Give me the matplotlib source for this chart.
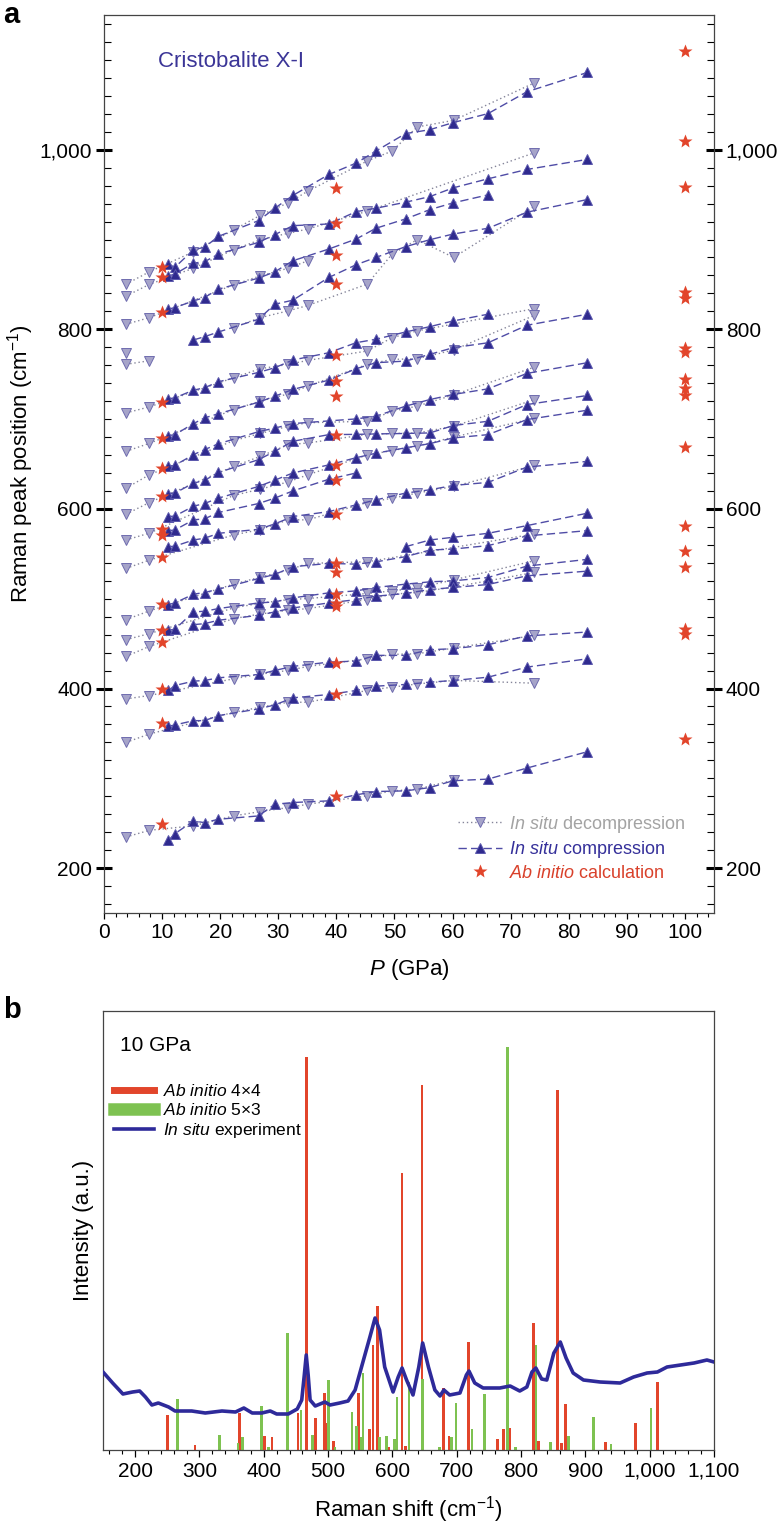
import numpy as np
import matplotlib
matplotlib.use("Agg")
import matplotlib.pyplot as plt
from matplotlib.lines import Line2D
from matplotlib.ticker import MultipleLocator, FuncFormatter

plt.rcParams["font.family"] = ["Liberation Sans", "DejaVu Sans"]
plt.rcParams["mathtext.fontset"] = "custom"
plt.rcParams["mathtext.rm"] = "Liberation Sans"
plt.rcParams["mathtext.it"] = "Liberation Sans:italic"

# ---- Panel a data (pressure in GPa, peak position in cm-1) ----
p_comp = [11.1, 12.2, 15.4, 17.3, 19.7, 26.6, 29.4, 32.5, 38.7, 43.4, 46.8, 51.9, 56.1, 60.1, 66.1, 72.8, 83.2]
p_decomp = [3.8, 7.8, 15.3, 22.3, 26.9, 31.7, 35.1, 45.3, 49.6, 53.9, 60.2, 74.1]
nan = np.nan

# compression branches (one list per Raman mode)
comp_1 = [872.6, 869.0, 888.6, 891.3, 903.5, 921.0, 934.8, 949.0, 972.4, 985.1, 998.5, 1017.9, 1022.3, 1030.2, 1040.2, 1064.5, 1086.0]
comp_2 = [859.5, 861.4, 873.7, 875.2, 883.8, 896.8, 905.4, 915.4, 917.3, 931.0, 934.8, 941.5, 947.8, 957.5, 967.6, 978.0, 989.2]
comp_3 = [822.5, 824.2, 831.6, 835.4, 844.7, 857.0, 864.0, 876.3, 889.4, 900.5, 912.5, 922.9, 933.3, 940.8, 949.7, nan, nan]
comp_4 = [nan, nan, 788.1, 791.8, 797.0, 811.2, 827.9, 832.4, 857.7, 871.9, 880.0, 892.0, 899.8, 906.1, 912.5, 930.4, 944.5]
comp_5 = [722.6, 723.7, 732.2, 734.9, 741.6, 752.0, 757.2, 765.8, 773.9, 785.1, 788.9, 797.0, 803.0, 809.3, 816.8, nan, nan]
comp_6 = [681.6, 682.7, 695.0, 701.3, 706.0, 718.8, 725.5, 733.0, 743.4, 756.1, 762.8, 764.6, 772.1, 779.5, 785.0, 804.5, 816.8]
comp_7 = [647.3, 648.5, 660.4, 666.0, 672.5, 686.0, 690.0, 695.0, 698.0, 700.2, 703.2, 714.4, 721.8, 727.4, 733.7, 750.9, 762.8]
comp_8 = [617.0, 617.6, 628.7, 631.7, 640.6, 654.8, 664.1, 675.3, 682.7, 683.0, 683.5, 684.0, 684.6, 692.8, 697.6, 716.2, 726.3]
comp_9 = [591.5, 592.0, 603.0, 606.0, 612.0, 625.0, 632.0, 640.0, 649.0, 657.0, 662.0, 668.0, 672.7, 679.0, 682.7, 699.5, 709.9]
comp_10 = [575.8, 576.5, 587.8, 588.9, 596.0, 606.0, 612.0, 620.0, 633.0, 640.0, nan, nan, nan, nan, nan, nan, nan]
comp_11 = [557.9, 558.5, 565.4, 567.3, 572.8, 577.3, 583.3, 591.5, 597.0, 604.5, 610.0, 617.6, 621.3, 626.1, 629.5, 646.6, 652.9]
comp_12 = [nan, nan, nan, nan, nan, nan, nan, nan, nan, nan, nan, 557.9, 565.4, 568.4, 572.8, 581.4, 595.2]
comp_13 = [493.5, 495.3, 505.0, 506.9, 510.6, 522.5, 527.0, 535.6, 539.3, 538.5, 541.0, 546.8, 554.2, 555.3, 559.1, 569.9, 575.8]
comp_14 = [465.0, 465.9, 485.3, 486.0, 489.0, 495.3, 496.4, 500.9, 506.5, 508.7, 512.5, 516.2, 518.8, 519.9, 523.6, 536.3, 543.8]
comp_15 = [nan, nan, 471.1, 472.2, 476.0, 481.5, 485.3, 489.7, 495.3, 499.0, 502.8, 505.8, 510.2, 512.5, 515.8, 525.5, 530.7]
comp_16 = [397.8, 403.3, 408.2, 408.9, 411.9, 415.6, 420.1, 424.6, 429.4, 430.5, 436.9, 436.9, 443.2, 444.3, 448.8, 458.5, 462.9]
comp_17 = [357.9, 359.4, 364.2, 364.2, 369.8, 377.3, 381.7, 389.6, 393.3, 397.8, 402.6, 404.5, 407.1, 408.9, 412.6, 423.8, 433.1]
comp_18 = [230.9, 238.3, 252.5, 250.6, 254.4, 258.1, 271.1, 273.0, 274.9, 281.6, 285.3, 286.0, 289.7, 297.3, 299.1, 311.4, 329.6]

# decompression branches
decomp_1 = [850.3, 864.0, 886.0, 910.6, 927.0, 940.8, 953.9, 987.4, 998.5, 1025.3, 1032.7, 1074.5]
decomp_2 = [837.0, 850.0, 867.8, 888.6, 899.8, 906.9, 911.7, 931.5, nan, nan, nan, 996.6]
decomp_3 = [805.6, 813.0, nan, 849.5, 859.5, 868.0, 876.3, nan, nan, nan, nan, nan]
decomp_4 = [nan, nan, nan, 801.9, 813.0, 820.5, 826.6, 850.3, 883.8, 899.8, 880.0, 937.0]
decomp_5 = [706.9, 713.6, nan, 746.0, 756.1, 760.9, 765.4, 775.8, 790.7, 798.2, nan, 823.0]
decomp_6 = [664.1, 673.0, nan, 710.6, 720.0, 728.0, 736.7, 760.9, 766.5, 767.2, 777.0, 815.6]
decomp_7 = [623.1, 638.0, nan, 676.0, 684.0, 692.0, 696.0, 697.6, 708.8, 714.4, 727.0, 757.9]
decomp_8 = [594.1, 607.1, nan, 647.3, 658.5, 671.5, 673.4, 683.0, 684.0, 684.5, 692.0, 721.8]
decomp_9 = [565.4, 573.0, nan, 615.0, 622.0, 630.0, 638.0, 660.0, 665.0, 670.0, 680.0, 701.0]
decomp_11 = [533.7, 543.0, nan, 571.0, 577.0, 587.8, 587.8, 607.1, 611.9, 617.6, 625.0, 648.5]
decomp_13 = [476.7, 486.4, nan, 516.2, 524.0, 531.8, 539.3, 541.1, nan, nan, nan, 572.1]
decomp_14 = [454.4, 461.1, nan, 489.7, 495.0, 499.0, 500.2, 505.8, 508.7, 512.0, 521.0, 542.3]
decomp_15 = [435.7, 446.9, nan, 477.8, 483.0, 487.1, 489.0, 499.0, 505.0, 506.9, 513.0, 529.3]
decomp_16 = [388.4, 392.2, nan, 410.8, 416.0, 420.1, 424.6, 433.1, 438.0, 438.7, 445.0, 459.2]
decomp_17 = [340.0, 349.3, nan, 373.5, 379.1, 384.7, 384.7, 397.8, 401.5, 405.0, 409.0, 405.9]
decomp_18 = [234.6, 242.1, 247.0, 258.1, 262.9, 267.4, 271.1, 280.4, 286.0, 287.9, 298.0, nan]
decomp_short_p = [3.8, 7.8]
decomp_short = [761.0, 765.0]
decomp_single_p = [3.8]
decomp_single = [774.0]

# ab initio peaks at 10, 40 and 100 GPa
star_10 = [868.9, 857.7, 819.8, 718.8, 679.0, 645.5, 614.6, 577.3, 571.0, 546.8, 494.6, 465.5, 451.8, 399.6, 361.3, 248.8]
star_40 = [957.5, 918.0, 883.0, 850.3, 771.0, 742.3, 725.5, 682.0, 649.2, 632.4, 594.1, 540.0, 530.0, 505.0, 495.0,
           491.6, 428.3, 394.0, 280.4]
star_100 = [1110.2, 1009.7, 958.3, 841.7, 834.3, 779.5, 775.1, 744.9, 734.9, 726.3, 668.9, 581.0, 553.5, 535.6,
            466.7, 461.1, 343.7]

# ---- Panel b data (Raman shift in cm-1, intensity in arbitrary units) ----
red_shift = [250, 293, 362, 401, 413, 453, 466, 480, 494, 498, 508, 547, 564, 570, 577, 594, 615, 620, 646,
             679, 688, 718, 763, 773, 782, 819, 827, 857, 863, 869, 931, 978, 1012]
red_int = [35, 5, 37, 14, 13, 37, 393, 32, 57, 27, 9, 57, 21, 105, 144, 3, 277, 4, 365,
           62, 14, 108, 11, 21, 22, 127, 9, 360, 7, 46, 8, 27, 68]
green_shift = [266, 331, 360, 367, 396, 407, 437, 458, 476, 501, 511, 537, 544, 551, 554, 580, 591, 603, 607,
               626, 647, 673, 692, 699, 724, 743, 779, 791, 823, 846, 874, 913, 940, 1002]
green_int = [51, 15, 7, 13, 44, 3, 117, 40, 15, 70, 3, 38, 24, 13, 77, 13, 14, 11, 53,
             68, 71, 3, 13, 47, 21, 56, 403, 3, 105, 8, 14, 33, 6, 42]
spec_shift = [150, 165, 181, 196, 207, 216, 226, 236, 252, 262, 288, 309, 335, 356, 369, 382, 397, 410, 420,
              438, 452, 459, 463, 466, 469, 472, 480, 495, 503, 518, 531, 542, 555, 565, 573, 580, 588,
              601, 609, 615, 622, 632, 641, 647, 656, 666, 674, 680, 689, 705, 715, 719, 728, 741, 767,
              783, 798, 809, 817, 823, 832, 840, 851, 861, 870, 881, 897, 923, 954, 975, 996, 1012, 1027,
              1048, 1069, 1089, 1100]
spec_int = [78, 67, 56, 58, 59, 53, 45, 47, 43, 39, 39, 37, 39, 38, 42, 37, 37, 39, 36,
            36, 41, 50, 75, 95, 75, 50, 44, 48, 45, 47, 49, 60, 90, 113, 132, 120, 83,
            58, 73, 82, 70, 55, 83, 107, 83, 60, 54, 60, 55, 57, 75, 79, 67, 62, 62,
            64, 59, 63, 78, 82, 71, 70, 97, 108, 92, 77, 70, 68, 67, 73, 77, 78, 83,
            85, 87, 90, 88]

comp_lines = [comp_1, comp_2, comp_3, comp_4, comp_5, comp_6, comp_7, comp_8, comp_9, comp_10,
              comp_11, comp_12, comp_13, comp_14, comp_15, comp_16, comp_17, comp_18]
decomp_lines = [decomp_1, decomp_2, decomp_3, decomp_4, decomp_5, decomp_6, decomp_7, decomp_8, decomp_9,
                decomp_11, decomp_13, decomp_14, decomp_15, decomp_16, decomp_17, decomp_18]

# colours
blue_dark = "#2f2a8e"
blue_line = "#4f4ca6"
lilac = "#a6a4c9"
lilac_edge = "#6f6caf"
grey_line = "#85859a"
red = "#e2452b"
green = "#7ec251"

comp_style = dict(ls=(0, (6, 3)), lw=1.0, color=blue_line, marker="^", ms=7.5,
                  mfc=blue_dark, mec="#5b58ad", mew=0.7)
decomp_style = dict(ls=(0, (1, 2)), lw=1.0, color=grey_line, marker="v", ms=7.5,
                    mfc=lilac, mec=lilac_edge, mew=0.7)
star_style = dict(ls="none", marker="*", ms=10, color=red, mec="none")

fig = plt.figure(figsize=(7.81, 15.24), dpi=100)
ax1 = fig.add_axes([104 / 781, 1 - 913 / 1524, 610 / 781, 898 / 1524])
ax2 = fig.add_axes([103 / 781, 1 - 1450 / 1524, 611 / 781, 439 / 1524])

"""---Panel a: peak positions vs pressure---"""
p_d = np.array(p_decomp)
for vals in decomp_lines:
    v = np.array(vals)
    ok = ~np.isnan(v)
    ax1.plot(p_d[ok], v[ok], zorder=2, **decomp_style)
ax1.plot(decomp_short_p, decomp_short, zorder=2, **decomp_style)
ax1.plot(decomp_single_p, decomp_single, zorder=2, **decomp_style)

p_c = np.array(p_comp)
for vals in comp_lines:
    v = np.array(vals)
    ok = ~np.isnan(v)
    ax1.plot(p_c[ok], v[ok], zorder=3, **comp_style)

ax1.plot([10] * len(star_10), star_10, zorder=4, **star_style)
ax1.plot([40] * len(star_40), star_40, zorder=4, **star_style)
ax1.plot([100] * len(star_100), star_100, zorder=4, **star_style)

ax1.set_xlim(0, 105)
ax1.set_ylim(150, 1150)
ax1.xaxis.set_major_locator(MultipleLocator(10))
ax1.xaxis.set_minor_locator(MultipleLocator(2))
ax1.yaxis.set_major_locator(MultipleLocator(200))
ax1.yaxis.set_minor_locator(MultipleLocator(20))
ax1.yaxis.set_major_formatter(FuncFormatter(lambda v, pos: f"{v:,.0f}"))
ax1.tick_params(axis="y", which="major", direction="inout", length=11, width=2.2,
                left=True, right=True, labelleft=True, labelright=True, labelsize=15, pad=3)
ax1.tick_params(axis="y", which="minor", direction="in", length=5, width=0.8, left=True, right=True)
ax1.tick_params(axis="x", which="major", direction="out", length=4, width=0.9, labelsize=15, top=False)
ax1.tick_params(axis="x", which="minor", direction="out", length=3, width=0.8, top=False)
for s in ax1.spines.values():
    s.set_color("#444444")
    s.set_linewidth(0.9)

ax1.set_xlabel("$\\mathit{P}$ (GPa)", fontsize=16)
ax1.xaxis.set_label_coords(0.5, -0.049)
ax1.set_ylabel("Raman peak position (cm$^{-1}$)", fontsize=16)
ax1.yaxis.set_label_coords(-0.112, 0.5)
ax1.text(9.3, 1098, "Cristobalite X-I", color="#3b3597", fontsize=16, va="center", ha="left")

handles_a = [Line2D([], [], **decomp_style), Line2D([], [], **comp_style), Line2D([], [], **star_style)]
labels_a = ["$\\mathit{In\\ situ}$ decompression", "$\\mathit{In\\ situ}$ compression",
            "$\\mathit{Ab\\ initio}$ calculation"]
leg_a = ax1.legend(handles_a, labels_a, loc="lower right", bbox_to_anchor=(0.952, 0.035), frameon=False,
                   fontsize=13, handlelength=2.4, handletextpad=0.4, labelspacing=0.25,
                   borderpad=0, borderaxespad=0)
for txt, col in zip(leg_a.get_texts(), ["#a3a3a3", "#35309a", "#d9412b"]):
    txt.set_color(col)

"""---Panel b: spectrum at 10 GPa---"""
ax2.bar(red_shift, red_int, width=4, color=red, zorder=2)
ax2.bar(green_shift, green_int, width=4, color=green, zorder=2)
ax2.plot(spec_shift, spec_int, color="#2e2a9a", lw=2.6, zorder=3)

ax2.set_xlim(150, 1100)
ax2.set_ylim(0, 439)
ax2.xaxis.set_major_locator(MultipleLocator(100))
ax2.xaxis.set_minor_locator(MultipleLocator(20))
ax2.xaxis.set_major_formatter(FuncFormatter(lambda v, pos: f"{v:,.0f}"))
ax2.set_yticks([])
ax2.tick_params(axis="x", which="major", direction="out", length=5, width=0.9, labelsize=15)
ax2.tick_params(axis="x", which="minor", direction="out", length=3, width=0.8)
for s in ax2.spines.values():
    s.set_color("#444444")
    s.set_linewidth(0.9)

ax2.set_xlabel("Raman shift (cm$^{-1}$)", fontsize=16)
ax2.xaxis.set_label_coords(0.5, -0.1)
ax2.set_ylabel("Intensity (a.u.)", fontsize=16)
ax2.yaxis.set_label_coords(-0.015, 0.5)
ax2.text(0.028, 0.922, "10 GPa", transform=ax2.transAxes, fontsize=15, va="center", ha="left")

handles_b = [Line2D([], [], color=red, lw=5), Line2D([], [], color=green, lw=9),
             Line2D([], [], color="#2e2a9a", lw=2.6)]
labels_b = ["$\\mathit{Ab\\ initio}$ 4×4", "$\\mathit{Ab\\ initio}$ 5×3", "$\\mathit{In\\ situ}$ experiment"]
ax2.legend(handles_b, labels_b, loc="upper left", bbox_to_anchor=(0.018, 0.835), frameon=False,
           fontsize=12.5, handlelength=2.3, handletextpad=0.5, labelspacing=0.15,
           borderpad=0, borderaxespad=0)

# panel letters
fig.text(0.004, 1 - 15 / 1524, "a", fontsize=21, fontweight="bold", va="center", ha="left")
fig.text(0.004, 1 - 1010 / 1524, "b", fontsize=21, fontweight="bold", va="center", ha="left")

fig.savefig("out.png", dpi=100)
